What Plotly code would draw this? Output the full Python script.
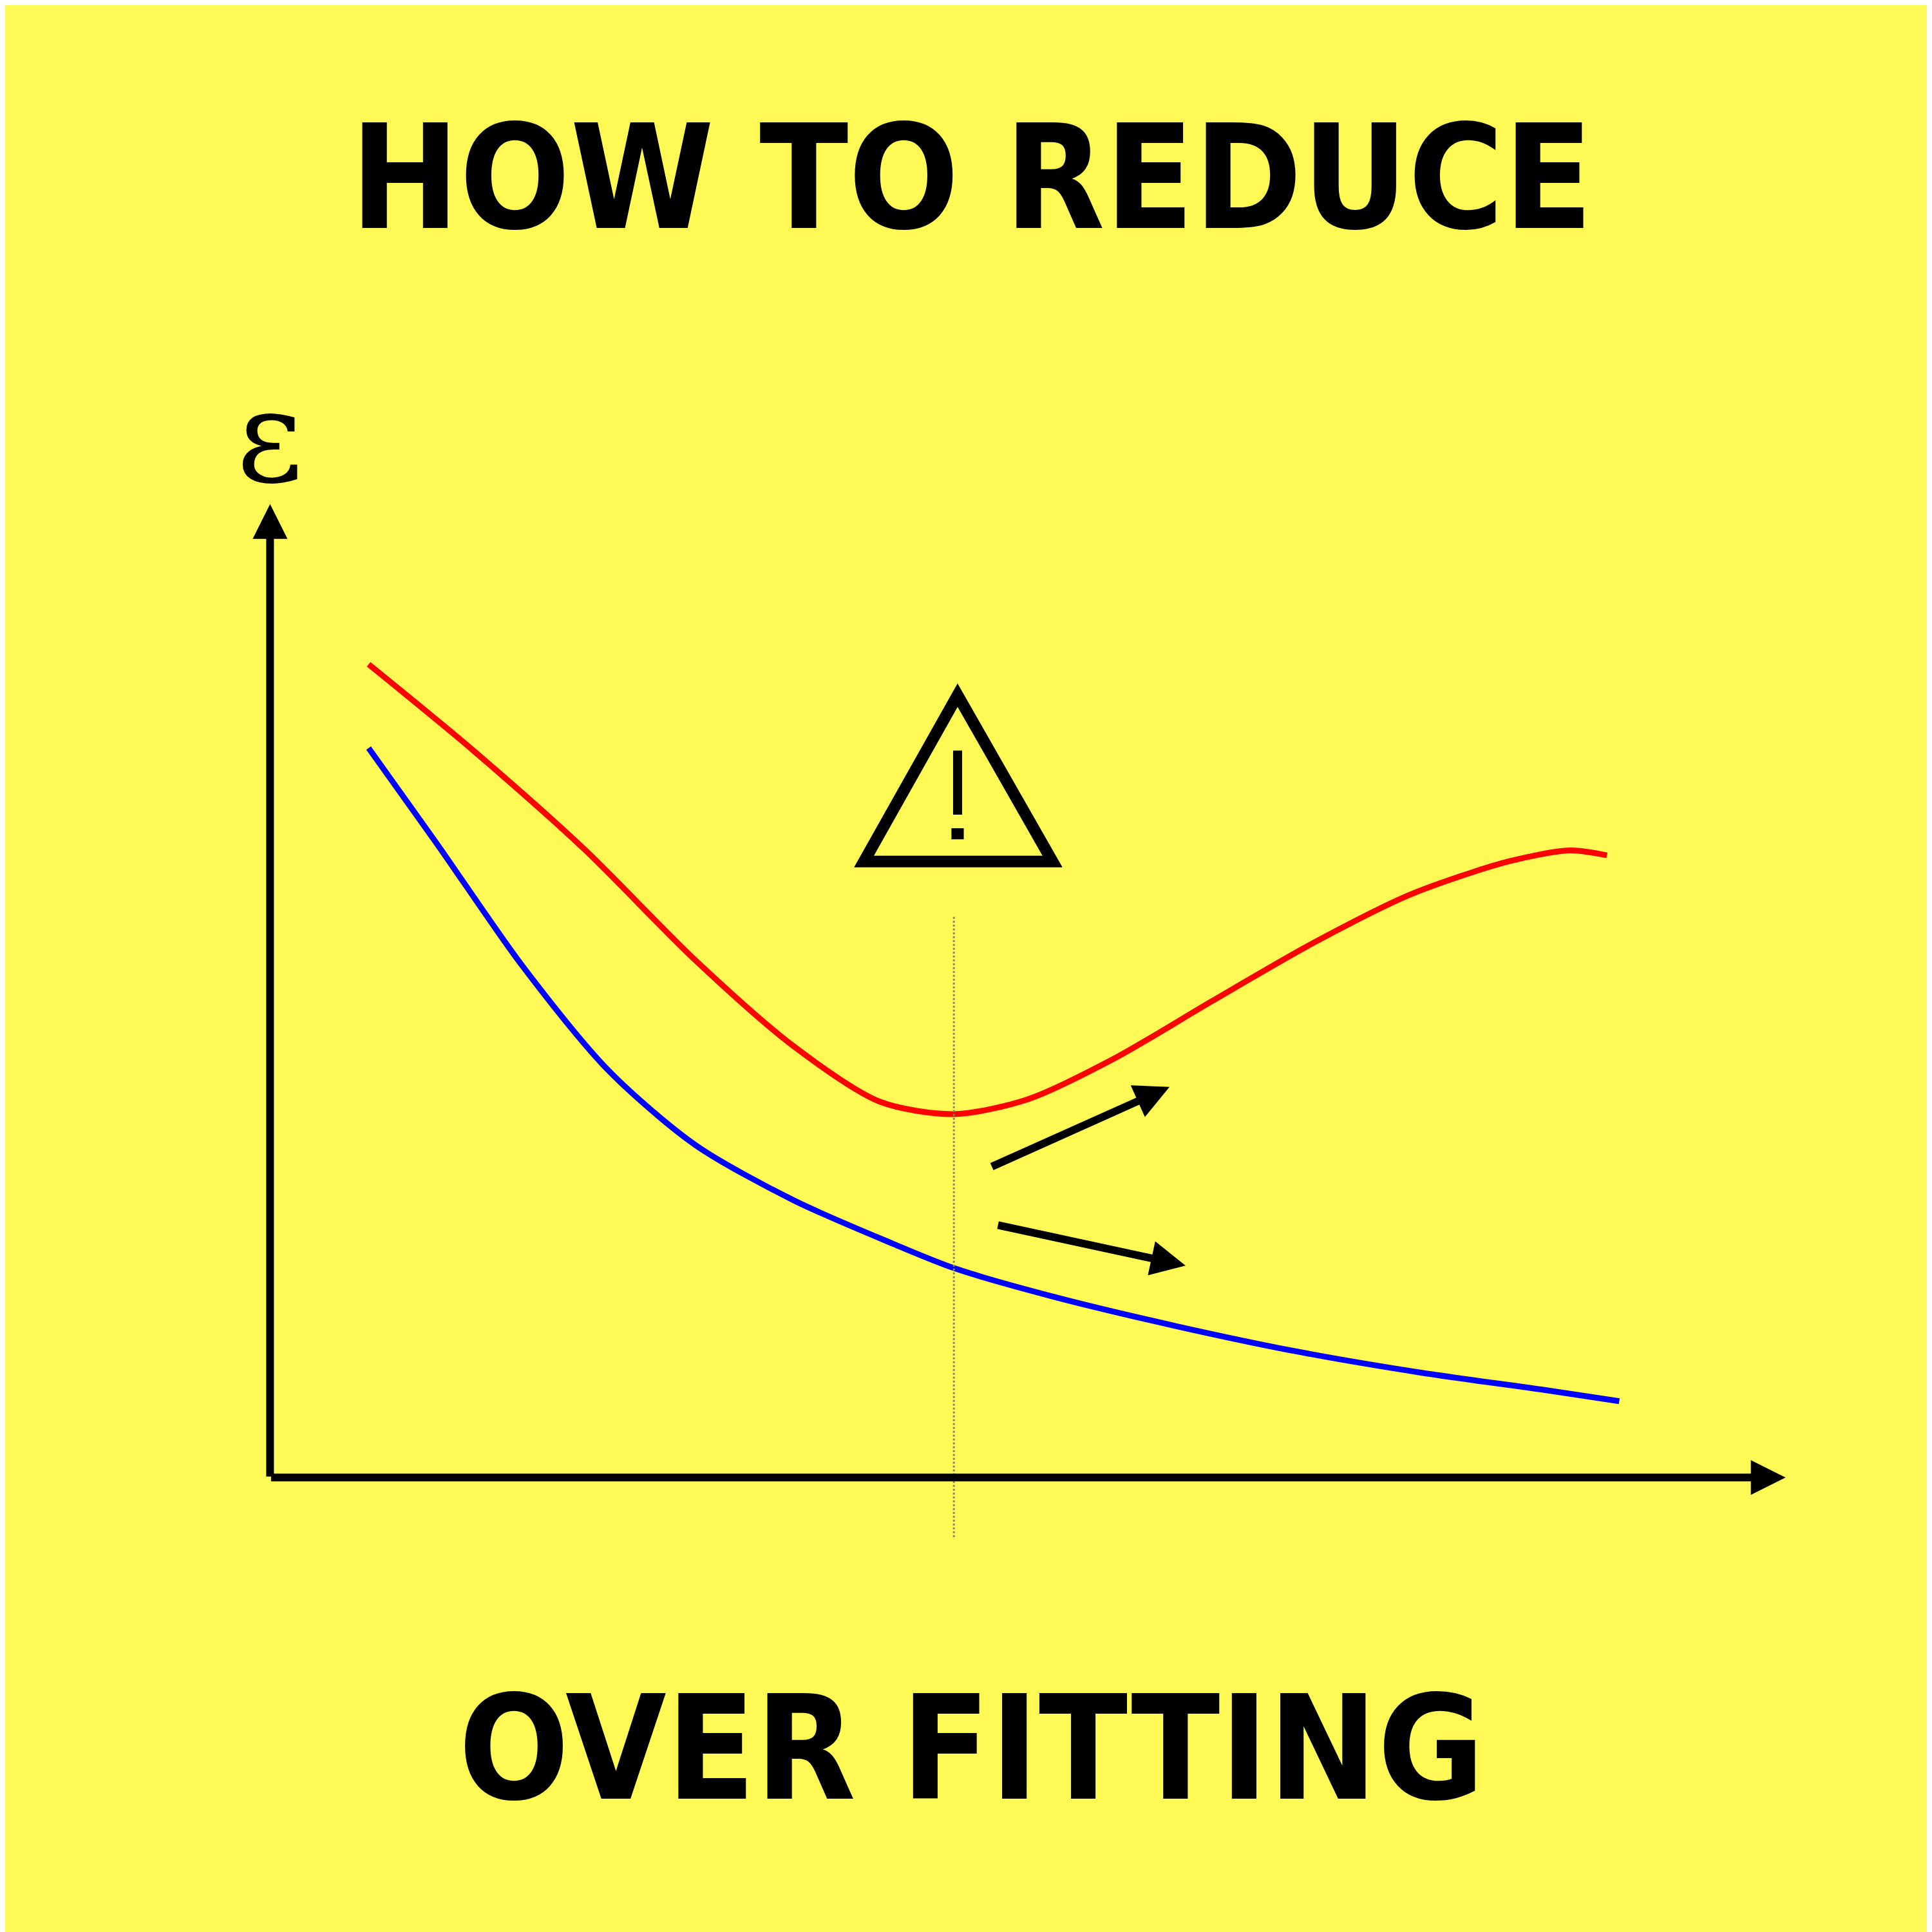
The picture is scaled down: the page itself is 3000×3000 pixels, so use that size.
import plotly.graph_objects as go

# schematic coordinates: x = horizontal position, y = error level
red_x = [80,165,255,345,425,495,555,615,685,765,845,925,1005,1055,1085]
red_y = [660,590,510,420,350,305,295,307,340,387,433,473,500,509,505]
blue_x = [80,135,205,275,345,425,505,555,635,735,835,935,1035,1095]
blue_y = [592,515,415,330,270,225,190,170,147,123,102,85,71,62]
vline_x = 555
title_top = "HOW TO REDUCE"
title_bottom = "OVER FITTING"

BG = "#FFF955"
FONT = "DejaVu Sans Condensed, Liberation Sans Narrow, DejaVu Sans"
fig = go.Figure()
fig.add_trace(go.Scatter(x=red_x, y=red_y, mode="lines", line=dict(color="#FF0000", width=9, shape="spline", smoothing=0.8), hoverinfo="skip"))
fig.add_trace(go.Scatter(x=blue_x, y=blue_y, mode="lines", line=dict(color="#0000FF", width=9, shape="spline", smoothing=0.8), hoverinfo="skip"))

shapes = [
    dict(type="line", x0=vline_x, x1=vline_x, y0=455, y1=-50, line=dict(color="#888855", width=3, dash="dot")),
    dict(type="path", path="M 558 635 L 482 500 L 635 500 Z", fillcolor=BG, line=dict(color="black", width=18)),
    dict(type="line", x0=558, x1=558, y0=590, y1=538, line=dict(color="black", width=14)),
    dict(type="rect", x0=553, x1=563, y0=527, y1=518, fillcolor="black", line=dict(width=0)),
]
def arrow(x, y, ax, ay):
    return dict(x=x, y=y, ax=ax, ay=ay, axref="x", ayref="y", showarrow=True, arrowhead=2,
                arrowsize=0.9, arrowwidth=12, arrowcolor="black", text="")
ann = [
    arrow(1230, 0, 0, 0),
    arrow(0, 790, 0, 0),
    arrow(730, 317, 585, 252),
    arrow(743, 172, 590, 205),
    dict(x=0, y=845, text="ε", showarrow=False, yanchor="middle", font=dict(size=200, color="black", family="DejaVu Serif")),
    dict(x=0.5, y=1-140/1568, xref="paper", yref="paper", yanchor="middle", text=f"<b>{title_top}</b>", showarrow=False,
         font=dict(size=225, color="black", family=FONT)),
    dict(x=0.5, y=1-1415/1568, xref="paper", yref="paper", yanchor="middle", text=f"<b>{title_bottom}</b>", showarrow=False,
         font=dict(size=225, color="black", family=FONT)),
]
fig.update_layout(width=3000, height=3000, margin=dict(l=0, r=0, t=0, b=0),
                  paper_bgcolor=BG, plot_bgcolor=BG, showlegend=False,
                  shapes=shapes, annotations=ann,
                  xaxis=dict(range=[-215, 1353], visible=False, fixedrange=True),
                  yaxis=dict(range=[-373, 1195], visible=False, fixedrange=True))
fig.write_html("out.html")
